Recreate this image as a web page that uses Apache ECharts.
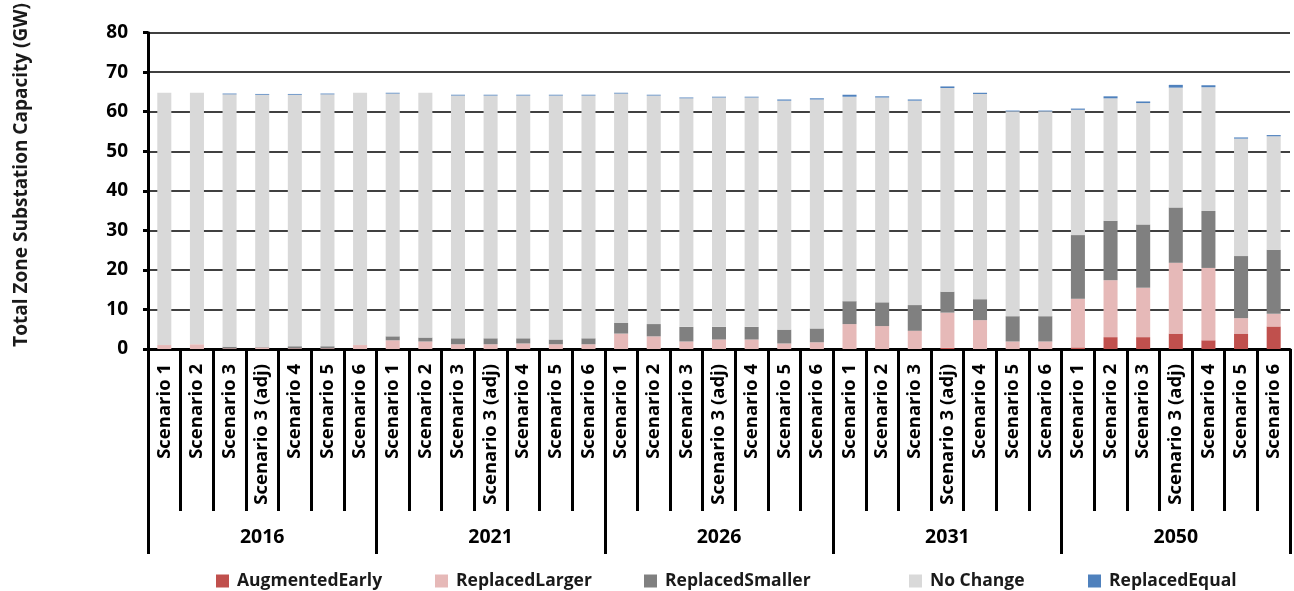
<!DOCTYPE html>
<html>
<head>
<meta charset="utf-8">
<script src="https://cdn.jsdelivr.net/npm/echarts@6/dist/echarts.min.js"></script>
<style>
  html, body { margin: 0; padding: 0; background: #fff; }
  #chart { width: 1294px; height: 591px; }
</style>
</head>
<body>
<div id="chart"></div>
<script>
// Zone substation capacity (GW) by study year and scenario
const years = ['2016', '2021', '2026', '2031', '2050'];
const scenarios = ['Scenario 1', 'Scenario 2', 'Scenario 3', 'Scenario 3 (adj)', 'Scenario 4', 'Scenario 5', 'Scenario 6'];

// One value per bar, in year order, each year listing its seven scenarios
const augmentedEarly = [
  0, 0, 0, 0, 0, 0, 0,
  0, 0, 0, 0, 0, 0, 0,
  0, 0, 0, 0, 0, 0, 0,
  0, 0, 0, 0.3, 0, 0, 0,
  0.4, 3.0, 3.0, 3.9, 2.2, 3.9, 5.7
];
const replacedLarger = [
  1.0, 1.2, 0.2, 0.4, 0.2, 0.2, 1.0,
  2.2, 1.9, 1.2, 1.2, 1.4, 1.2, 1.2,
  3.9, 3.2, 1.9, 2.4, 2.4, 1.4, 1.7,
  6.3, 5.8, 4.6, 8.9, 7.3, 1.9, 1.9,
  12.3, 14.4, 12.5, 17.9, 18.3, 3.9, 3.2
];
const replacedSmaller = [
  0, 0, 0.4, 0.1, 0.5, 0.5, 0,
  1.0, 1.0, 1.5, 1.5, 1.3, 1.2, 1.5,
  2.7, 3.1, 3.7, 3.2, 3.2, 3.5, 3.5,
  5.8, 6.0, 6.5, 5.3, 5.3, 6.4, 6.4,
  16.1, 15.0, 16.0, 14.0, 14.4, 15.7, 16.2
];
const noChange = [
  63.8, 63.6, 63.8, 63.8, 63.6, 63.7, 63.8,
  61.4, 61.9, 61.4, 61.4, 61.4, 61.7, 61.4,
  58.0, 57.8, 57.8, 58.0, 58.0, 57.9, 57.9,
  51.7, 51.8, 51.7, 51.5, 51.9, 51.8, 51.8,
  31.7, 31.0, 30.7, 30.3, 31.3, 29.7, 28.7
];
const replacedEqual = [
  0, 0, 0.2, 0.2, 0.2, 0.2, 0,
  0.2, 0, 0.2, 0.2, 0.2, 0.2, 0.2,
  0.2, 0.2, 0.2, 0.2, 0.2, 0.3, 0.3,
  0.5, 0.3, 0.3, 0.4, 0.3, 0.2, 0.2,
  0.3, 0.5, 0.4, 0.7, 0.5, 0.3, 0.3
];
const yTicks = { min: 0, max: 80, interval: 10 };

// Flattened category list: every scenario repeated under each year
const categories = [];
years.forEach(() => scenarios.forEach(s => categories.push(s)));

const FONT = 'Open Sans';
const seriesDefs = [
  { name: 'AugmentedEarly', data: augmentedEarly, color: '#C0504D' },
  { name: 'ReplacedLarger', data: replacedLarger, color: '#E6B9B8' },
  { name: 'ReplacedSmaller', data: replacedSmaller, color: '#808080' },
  { name: 'No Change', data: noChange, color: '#D9D9D9' },
  { name: 'ReplacedEqual', data: replacedEqual, color: '#4F81BD' }
];

// Legend entries sit in fixed slots along the bottom
const legendSlots = [211, 430, 639, 904, 1083];

const chart = echarts.init(document.getElementById('chart'), null, { renderer: 'canvas' });

chart.setOption({
  backgroundColor: '#ffffff',
  animation: false,
  textStyle: { fontFamily: FONT },
  grid: { left: 148, right: 4, top: 32, bottom: 242, containLabel: false },
  legend: seriesDefs.map((s, i) => ({
    data: [s.name],
    left: legendSlots[i],
    top: 567,
    icon: 'rect',
    itemWidth: 13,
    itemHeight: 13,
    textStyle: { fontFamily: FONT, fontSize: 17.5, fontWeight: 'bold', color: '#1a1a1a', padding: [0, 0, 0, 3] }
  })),
  xAxis: [
    {
      type: 'category',
      data: categories,
      position: 'bottom',
      axisLine: { show: true, lineStyle: { color: '#000', width: 3 } },
      axisTick: { show: true, interval: 0, length: 162, lineStyle: { color: '#000', width: 3 } },
      axisLabel: {
        interval: 0, rotate: 90, margin: 15,
        fontFamily: FONT, fontSize: 18.5, fontWeight: 'bold', color: '#000'
      },
      splitLine: { show: false }
    },
    {
      type: 'category',
      data: years,
      position: 'bottom',
      axisLine: { show: false },
      axisTick: { show: true, interval: 0, length: 205, lineStyle: { color: '#000', width: 3 } },
      axisLabel: {
        interval: 0, margin: 178,
        fontFamily: FONT, fontSize: 19.5, fontWeight: 'bold', color: '#000'
      },
      splitLine: { show: false }
    }
  ],
  yAxis: {
    type: 'value',
    min: yTicks.min,
    max: yTicks.max,
    interval: yTicks.interval,
    name: 'Total Zone Substation Capacity (GW)',
    nameLocation: 'middle',
    nameRotate: 90,
    nameGap: 117,
    nameTextStyle: { fontFamily: FONT, fontSize: 19, fontWeight: 'bold', color: '#1a1a1a', padding: [0, 0, 0, 32] },
    axisLine: { show: true, lineStyle: { color: '#000', width: 3 } },
    axisTick: { show: true, length: 5, lineStyle: { color: '#000', width: 3 } },
    axisLabel: { margin: 20, fontFamily: FONT, fontSize: 19, fontWeight: 'bold', color: '#000' },
    splitLine: { show: true, lineStyle: { color: '#000', width: 1.5 } }
  },
  series: seriesDefs.map(s => ({
    name: s.name,
    type: 'bar',
    stack: 'capacity',
    xAxisIndex: 0,
    barWidth: '43%',
    data: s.data,
    itemStyle: { color: s.color }
  }))
});
</script>
</body>
</html>
